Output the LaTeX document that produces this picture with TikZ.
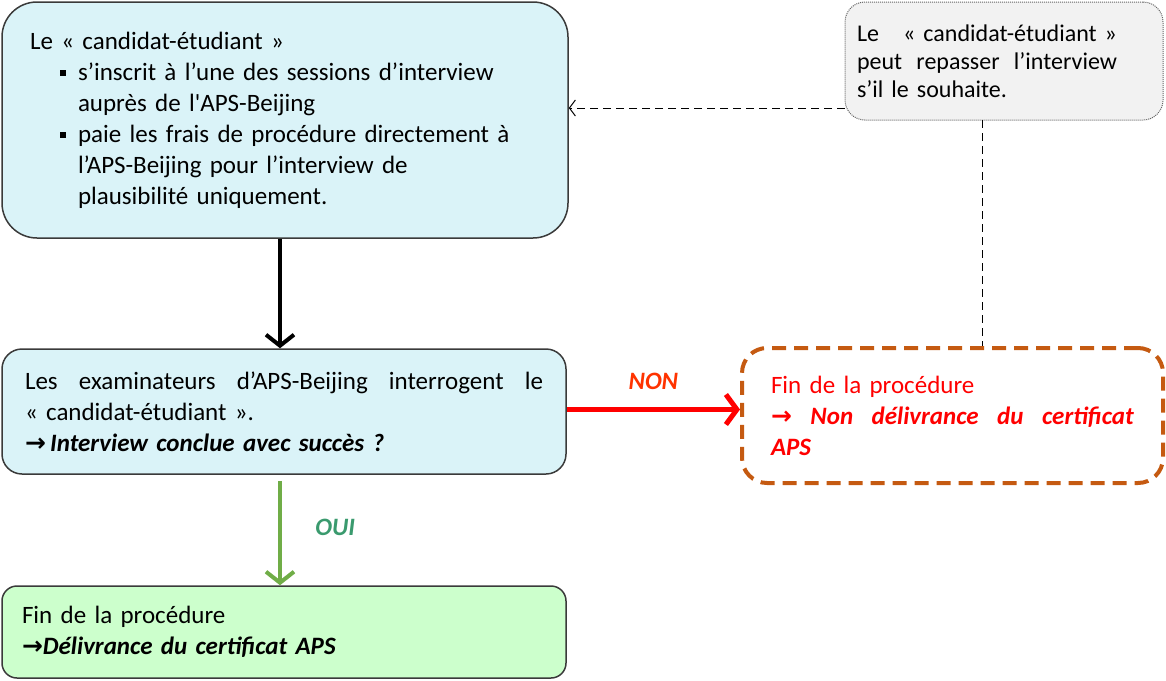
\documentclass[tikz,border=0pt]{standalone}
\usepackage{fontspec}
\setmainfont{Carlito}
\newfontfamily\arrowfont{DejaVu Sans}
\usetikzlibrary{arrows.meta}
\definecolor{boxblue}{HTML}{DAF3F8}
\definecolor{boxgreen}{HTML}{CCFFCC}
\definecolor{notegray}{HTML}{F2F2F2}
\definecolor{boxline}{HTML}{3A3A3A}
\definecolor{nonbrown}{HTML}{C55A11}
\definecolor{ouigreen}{HTML}{70AD47}
\definecolor{ouitext}{HTML}{3A9A6E}
\definecolor{nontext}{HTML}{FF3300}
\newcommand\bul{\rule[4pt]{6pt}{6pt}\hspace{12pt}}
\newcommand\arr{{\arrowfont\bfseries\upshape →}}
\begin{document}
\begin{tikzpicture}[x=1pt,y=-1pt,
  every node/.style={font=\fontsize{25}{31}\selectfont},
  procbox/.style={draw=boxline, line width=1.5pt, align=left, inner sep=0pt},
  thickarrow/.style={line width=4pt, -{Straight Barb[length=11pt,width=28pt,line width=4pt]}},
  dashconn/.style={line width=1pt, dash pattern=on 8pt off 5pt}]
\useasboundingbox (0,0) rectangle (1166,680);

\node[procbox, fill=boxblue, rounded corners=35pt, minimum width=566pt, minimum height=236pt, text width=510pt] (b1) at (285,120)
 {Le «~candidat-étudiant~»\\
  \hspace*{30pt}\bul s’inscrit à l’une des sessions d’interview\\
  \hspace*{48pt}auprès de l\textquotesingle APS-Beijing\\
  \hspace*{30pt}\bul paie les frais de procédure directement à\\
  \hspace*{48pt}l’APS-Beijing pour l’interview de\\
  \hspace*{48pt}plausibilité uniquement.};

\node[procbox, fill=boxblue, rounded corners=20pt, minimum width=564pt, minimum height=125pt, text width=518pt] (b2) at (284,411.5)
 {Les\hfill examinateurs\hfill d’APS-Beijing\hfill interrogent\hfill le\\
  «~candidat-étudiant~».\\
  \textbf{\textit{\arr\,Interview conclue avec succès ?}}};

\node[procbox, fill=boxgreen, rounded corners=15pt, minimum width=564pt, minimum height=92pt, text width=524pt] (b3) at (284,632)
 {Fin de la procédure\\
  \textbf{\textit{\arr Délivrance du certificat APS}}};

\node[draw=nonbrown, line width=4pt, dash pattern=on 14pt off 8pt, rounded corners=25pt, fill=white, text=red, align=left, inner sep=0pt, minimum width=421pt, minimum height=135pt, text width=363pt] (b4) at (952.5,415.5)
 {Fin de la procédure\\
  \textbf{\textit{\arr\hfill Non\hfill délivrance\hfill du\hfill certificat}}\\
  \textbf{\textit{APS}}};

\node[draw=gray!80!black, line width=1pt, densely dotted, fill=notegray, rounded corners=20pt, align=left, inner sep=0pt, minimum width=318pt, minimum height=118pt, text width=294pt, font=\fontsize{24}{28}\selectfont] (n) at (1004,61)
 {\makebox[260pt][s]{Le\hfill «~candidat-étudiant~»}\\
  \makebox[260pt][s]{peut\hfill repasser\hfill l’interview}\\
  s’il le souhaite.};

\draw[thickarrow, black] ([xshift=-5pt]b1.south) -- ([xshift=-4pt]b2.north);
\draw[thickarrow, ouigreen] ([xshift=-4pt,yshift=-6pt]b2.south) -- ([xshift=-4pt]b3.north)
  node[pos=0.45, right=30pt, text=ouitext, font=\fontsize{25}{31}\selectfont\bfseries\itshape] {OUI};
\draw[line width=5pt, red, -{Straight Barb[length=11pt,width=30pt,line width=5pt]}] ([yshift=2pt]b2.east) -- ([yshift=2pt]b2.east -| b4.west)
  node[midway, above=14pt, text=nontext, font=\fontsize{25}{31}\selectfont\bfseries\itshape] {NON};

\coordinate (dj) at (845,108);
\coordinate (vj) at (982,120);
\draw[dashconn, -{Straight Barb[length=6pt,width=16pt,line width=1pt]}] (dj) -- (dj -| b1.east);
\draw[dashconn] (vj) -- (vj |- b4.north);
\end{tikzpicture}
\end{document}
